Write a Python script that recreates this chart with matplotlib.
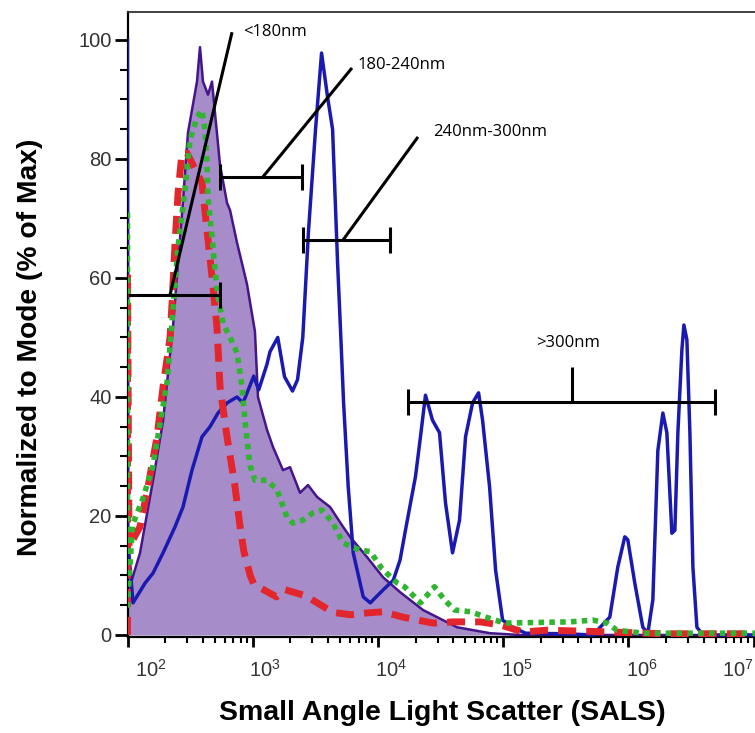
import numpy as np
import matplotlib
matplotlib.use("Agg")
import matplotlib.pyplot as plt
from matplotlib.ticker import FixedLocator, NullFormatter
from matplotlib.transforms import ScaledTranslation

plt.rcParams['mathtext.fontset'] = 'custom'
plt.rcParams['mathtext.rm'] = 'Liberation Sans'
plt.rcParams['mathtext.it'] = 'Liberation Sans'
plt.rcParams['mathtext.bf'] = 'Liberation Sans:bold'

# ---- data (x given as log10 of SALS) ----
purple_x = [2.000, 2.034, 2.100, 2.204, 2.284, 2.364, 2.440, 2.483, 2.555, 2.579, 2.603, 2.643,
            2.675, 2.699, 2.739, 2.795, 2.819, 2.875, 2.954, 3.018, 3.042, 3.114, 3.162, 3.242,
            3.298, 3.378, 3.442, 3.514, 3.618, 3.721, 3.777, 3.913, 4.041, 4.177, 4.360, 4.632,
            4.895, 5.135, 7.050]
purple_y = [5.0, 9.2, 13.8, 26.0, 36.0, 52.0, 72.0, 84.4, 93.0, 98.8, 93.0, 90.8,
            93.0, 87.7, 79.0, 72.6, 71.4, 65.9, 59.0, 51.0, 40.0, 34.5, 31.6, 27.7,
            28.2, 23.9, 25.2, 23.2, 21.5, 18.2, 16.5, 13.1, 9.7, 7.2, 4.2, 1.3,
            0.3, 0.0, 0.0]

blue_x = [2.000, 2.002, 2.044, 2.140, 2.204, 2.284, 2.380, 2.443, 2.515, 2.595, 2.659, 2.723,
          2.795, 2.875, 2.923, 3.008, 3.048, 3.114, 3.138, 3.200, 3.254, 3.318, 3.358, 3.400,
          3.446, 3.502, 3.550, 3.598, 3.638, 3.678, 3.702, 3.726, 3.763, 3.803, 3.883, 3.939,
          4.043, 4.123, 4.177, 4.220, 4.300, 4.340, 4.380, 4.436, 4.492, 4.540, 4.596, 4.652,
          4.700, 4.756, 4.804, 4.836, 4.892, 4.940, 4.996, 5.076, 5.180, 5.500, 5.717, 5.852,
          5.916, 5.972, 5.996, 6.052, 6.116, 6.156, 6.196, 6.236, 6.276, 6.308, 6.348, 6.372,
          6.396, 6.428, 6.444, 6.468, 6.492, 6.516, 6.548, 6.596, 7.050]
blue_y = [100.0, 16.0, 5.4, 8.7, 10.4, 13.8, 18.2, 21.5, 27.7, 33.3, 35.0, 37.3,
          39.0, 40.0, 39.0, 43.5, 41.2, 45.5, 47.6, 50.0, 43.4, 41.0, 42.9, 50.0,
          68.0, 85.0, 97.8, 90.4, 85.0, 62.5, 51.0, 39.0, 24.9, 13.8, 6.4, 5.4,
          7.6, 9.2, 12.6, 17.6, 26.6, 33.3, 40.3, 36.1, 34.0, 22.2, 13.8, 19.3,
          33.3, 39.0, 40.7, 36.1, 24.9, 10.9, 2.5, 1.3, 0.3, 0.2, 0.0, 3.0,
          11.4, 16.5, 16.0, 8.7, 1.3, 0.3, 5.9, 31.0, 37.3, 34.0, 17.1, 17.6,
          34.0, 47.9, 52.1, 49.6, 34.0, 11.4, 1.3, 0.0, 0.0]

red_x = [2.000, 2.000, 2.012, 2.100, 2.164, 2.236, 2.284, 2.340, 2.356, 2.380, 2.404, 2.435,
         2.475, 2.595, 2.635, 2.675, 2.715, 2.739, 2.795, 2.859, 2.899, 2.930, 2.980, 3.010,
         3.190, 3.260, 3.420, 3.500, 3.640, 3.780, 3.910, 4.040, 4.200, 4.440, 4.600, 4.816,
         4.976, 5.160, 5.350, 5.700, 6.000, 6.300, 7.050]
red_y = [0.0, 61.0, 14.8, 18.2, 24.9, 33.3, 41.7, 50.0, 55.8, 65.9, 74.3, 81.0,
         81.0, 76.0, 68.0, 60.2, 51.6, 41.7, 33.3, 24.9, 18.2, 14.0, 10.0, 8.5,
         6.4, 7.6, 6.6, 5.6, 3.8, 3.4, 3.7, 3.9, 3.0, 2.0, 2.2, 2.2,
         1.7, 0.5, 0.8, 0.6, 0.4, 0.2, 0.2]

green_x = [2.000, 2.000, 2.040, 2.124, 2.204, 2.260, 2.316, 2.355, 2.403, 2.459, 2.499, 2.555,
           2.595, 2.619, 2.635, 2.643, 2.675, 2.699, 2.723, 2.763, 2.819, 2.875, 2.915, 2.938,
           2.978, 3.018, 3.114, 3.194, 3.274, 3.320, 3.400, 3.480, 3.553, 3.641, 3.720, 3.850,
           3.940, 4.030, 4.150, 4.213, 4.340, 4.452, 4.532, 4.612, 4.740, 4.876, 5.012, 5.533,
           5.717, 5.829, 5.909, 6.117, 7.050]
green_y = [71.0, 5.0, 18.5, 23.0, 28.5, 35.5, 42.5, 52.4, 65.2, 74.8, 83.2, 87.0,
           88.2, 84.9, 79.3, 73.6, 66.9, 61.3, 56.8, 52.4, 50.0, 47.4, 41.7, 36.0,
           28.5, 26.0, 26.0, 24.4, 19.8, 18.8, 19.3, 20.5, 21.0, 18.8, 15.5, 14.3,
           14.0, 11.2, 8.8, 8.1, 5.4, 8.1, 5.9, 4.2, 3.9, 2.9, 2.0, 2.2,
           2.5, 2.0, 0.8, 0.3, 0.3]

# gates (log10 ranges), their y level, labels
gate_lo = [2.000, 2.739, 3.402, 4.240]
gate_hi = [2.739, 3.394, 4.097, 6.692]
gate_y = [57.1, 77.0, 66.4, 39.2]
gate_labels = ['<180nm', '180-240nm', '240nm-300nm', '>300nm']

y_ticks = [0, 20, 40, 60, 80, 100]
x_decades = [2, 3, 4, 5, 6, 7]

# ---- figure ----
W, H = 755, 733
fig = plt.figure(figsize=(W / 100, H / 100), dpi=100)
ax = fig.add_axes([127.5 / W, (H - 637) / H, 1 - 127.5 / W, (637 - 12) / H])

def X(v):
    return 10 ** np.asarray(v, dtype=float)

ax.fill_between(X(purple_x), 0, purple_y, color='#a78cca', lw=0, zorder=1)
ax.plot(X(purple_x), purple_y, color='#44168a', lw=1.8, zorder=2)
ax.plot(X(blue_x), blue_y, color='#1a1ab0', lw=2.5, zorder=3)
ax.plot(X(red_x), red_y, color='#e3262b', lw=5.0, dashes=(2.6, 1.45), zorder=4)
ax.plot(X(green_x), green_y, color='#2fb52f', lw=4.0, dashes=(1.0, 0.95), zorder=5)

cap = 2.2
gk = dict(color='black', lw=2.2, zorder=6, solid_capstyle='butt')
for i, (lo, hi, yy) in enumerate(zip(gate_lo, gate_hi, gate_y)):
    ax.plot(X([lo, hi]), [yy, yy], **gk)
    if i > 0:
        ax.plot(X([lo, lo]), [yy - cap, yy + cap], **gk)
    ax.plot(X([hi, hi]), [yy - cap, yy + cap], **gk)

# leader lines from gates to labels
ax.plot(X([2.339, 2.835]), [57.1, 101.3], **gk)
ax.plot(X([3.082, 3.793]), [77.0, 95.3], **gk)
ax.plot(X([3.722, 4.320]), [66.4, 83.7], **gk)
ax.plot(X([5.55, 5.55]), [39.2, 45.0], **gk)

lk = dict(fontsize=12, family='Open Sans', color='black', va='center', zorder=7)
ax.text(10 ** 2.923, 101.3, gate_labels[0], ha='left', **lk)
ax.text(10 ** 3.841, 95.8, gate_labels[1], ha='left', **lk)
ax.text(10 ** 4.440, 84.5, gate_labels[2], ha='left', **lk)
ax.text(10 ** 5.518, 49.1, gate_labels[3], ha='center', **lk)

ax.set_xscale('log')
ax.set_xlim(1e2, 10 ** (2 + (W - 127.5) / 125.2))
ax.set_ylim(-0.34, 104.7)

ax.xaxis.set_major_locator(FixedLocator([10.0 ** d for d in x_decades]))
minors = [m * 10.0 ** d for d in x_decades[:-1] for m in range(2, 10)]
ax.xaxis.set_minor_locator(FixedLocator(minors))
ax.xaxis.set_minor_formatter(NullFormatter())
ax.set_xticklabels([r'$\mathregular{10^{%d}}$' % d for d in x_decades])

ax.yaxis.set_major_locator(FixedLocator(y_ticks))
ax.yaxis.set_minor_locator(FixedLocator(list(range(0, 101, 5))))
ax.set_yticklabels([str(v) for v in y_ticks])

ax.spines['right'].set_visible(False)
ax.spines['left'].set_linewidth(1.6)
ax.spines['bottom'].set_linewidth(1.6)
ax.spines['top'].set_linewidth(1.3)
ax.spines['top'].set_color('#333333')

ax.tick_params(axis='x', which='major', direction='out', length=7.5, width=2.0,
               pad=8, labelsize=14.5, labelcolor='#333333')
ax.tick_params(axis='x', which='minor', direction='out', length=4.3, width=1.5)
ax.tick_params(axis='y', which='major', direction='out', length=9.5, width=2.0,
               pad=2, labelsize=14.5, labelcolor='#333333')
ax.tick_params(axis='y', which='minor', direction='out', length=6.0, width=1.5)

for lab in ax.get_xticklabels() + ax.get_yticklabels():
    lab.set_family('Liberation Sans')

# x tick label placement (labels sit to the right of the tick)
offsets_px = [7.5, -4, -3, -2, -2, -31]
for tick, dx in zip(ax.xaxis.get_major_ticks(), offsets_px):
    lab = tick.label1
    lab.set_horizontalalignment('left')
    lab.set_transform(lab.get_transform() + ScaledTranslation(dx / 100, 0, fig.dpi_scale_trans))

fig.text(30 / W, (H - 347) / H, 'Normalized to Mode (% of Max)', rotation=90,
         ha='center', va='center', fontsize=20.3, fontweight='bold', family='Liberation Sans')
fig.text(442 / W, (H - 713) / H, 'Small Angle Light Scatter (SALS)',
         ha='center', va='center', fontsize=20.5, fontweight='bold', family='Liberation Sans')

fig.savefig('out.png', dpi=100)
